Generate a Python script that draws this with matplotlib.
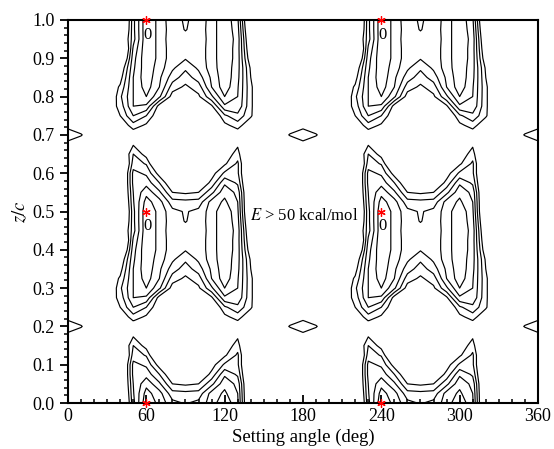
import numpy as np
import matplotlib.pyplot as plt
from matplotlib.ticker import MultipleLocator, FormatStrFormatter

plt.rcParams['font.family'] = 'serif'
plt.rcParams['font.serif'] = ['Liberation Serif', 'DejaVu Serif']
plt.rcParams['mathtext.fontset'] = 'stix'

# energy map (kcal/mol) for one repeat unit:
# setting angle 0..170 deg (step 10), z/c 0..0.475 (step 0.025)
cell_angles = np.arange(0, 180, 10)
cell_z = np.arange(0, 0.5, 0.025)
energy_cell = np.array([
    [70, 70, 70, 75, 89, 33,  2, 13, 27, 31,   27, 15,  2, 18, 80, 80, 72, 70],  # 0.000
    [70, 70, 70, 75, 85, 31,  6, 16, 36, 37,   36, 16,  8, 20, 80, 80, 72, 70],  # 0.025
    [70, 70, 70, 72, 80, 30, 13, 28, 50, 52,   50, 33, 13, 23, 80, 80, 72, 70],  # 0.050
    [70, 70, 70, 72, 80, 27, 24, 40, 62, 65,   62, 47, 22, 32, 80, 80, 72, 70],  # 0.075
    [70, 70, 70, 72, 80, 27, 32, 55, 70, 75,   70, 55, 38, 38, 80, 80, 72, 70],  # 0.100
    [70, 70, 70, 72, 85, 35, 41, 75, 78, 80,   78, 68, 52, 38, 80, 80, 72, 70],  # 0.125
    [70, 70, 70, 72, 70, 40, 55, 70, 78, 80,   78, 70, 58, 45, 80, 80, 72, 70],  # 0.150
    [53, 58, 68, 70, 66, 51, 62, 72, 78, 80,   78, 72, 64, 52, 70, 75, 68, 60],  # 0.175
    [45, 49, 60, 70, 65, 58, 60, 70, 78, 80,   78, 70, 62, 58, 62, 68, 60, 49],  # 0.200
    [53, 58, 65, 70, 60, 44, 52, 68, 78, 80,   78, 66, 53, 45, 60, 68, 65, 58],  # 0.225
    [65, 66, 68, 65, 50, 30, 40, 60, 75, 80,   75, 65, 42, 33, 48, 70, 70, 66],  # 0.250
    [66, 66, 65, 60, 46, 20, 22, 55, 68, 72,   68, 52, 22, 22, 48, 65, 68, 66],  # 0.275
    [69, 68, 68, 69, 42, 20, 10, 28, 55, 58,   52, 32, 10, 20, 48, 65, 68, 68],  # 0.300
    [63, 66, 66, 63, 48, 20,  5, 20, 45, 52,   45, 20,  4, 19, 48, 65, 66, 64],  # 0.325
    [65, 65, 66, 68, 55, 20,  3, 18, 35, 45,   35, 18,  3, 17, 50, 66, 66, 65],  # 0.350
    [70, 68, 68, 70, 62, 22,  3, 15, 28, 38,   28, 15,  3, 16, 52, 68, 68, 70],  # 0.375
    [70, 70, 70, 75, 80, 24,  2, 13, 26, 29,   26, 15,  2, 15, 60, 75, 72, 70],  # 0.400
    [70, 70, 70, 75, 90, 28,  2, 13, 26, 28,   26, 15,  2, 15, 65, 75, 72, 70],  # 0.425
    [70, 70, 70, 72, 74, 34,  2, 13, 27, 27,   27, 15,  2, 14, 70, 80, 72, 70],  # 0.450
    [70, 70, 70, 74, 85, 33,  2, 13, 26, 30.5, 26, 15,  2, 16, 75, 80, 72, 70],  # 0.475
], dtype=float)
levels = [10, 20, 30, 40, 50]

# global minima (E = 0)
min_angle = [60, 60, 60, 240, 240, 240]
min_z = [0.0, 0.5, 1.0, 0.0, 0.5, 1.0]
zero_label_angle = [61, 61, 241, 241]
zero_label_z = [0.462, 0.962, 0.462, 0.962]

# repeat unit is 180 deg in angle and 0.5 in z/c
energy = np.tile(energy_cell, (2, 2))
energy = np.hstack([energy, energy[:, :1]])
energy = np.vstack([energy, energy[:1, :]])
angles = np.append(np.concatenate([cell_angles, cell_angles + 180]), 360)
zs = np.append(np.concatenate([cell_z, cell_z + 0.5]), 1.0)

fig = plt.figure(figsize=(5.54, 4.49), dpi=100)
ax = fig.add_axes([0.1227, 0.1024, 0.8484, 0.8531])

ax.contour(angles, zs, energy, levels=levels, colors='k', linewidths=0.85)
ax.plot(min_angle, min_z, linestyle='none', marker=(6, 2, 0), ms=6, mew=0.9,
        color='red', clip_on=False, zorder=5)
for a, zz in zip(zero_label_angle, zero_label_z):
    ax.text(a, zz, '0', ha='center', va='center', fontsize=12)
ax.text(181, 0.488, r'$E$ > 50 kcal/mol', ha='center', va='center', fontsize=12)

ax.set_xlim(0, 360)
ax.set_ylim(0, 1)
ax.xaxis.set_major_locator(MultipleLocator(60))
ax.xaxis.set_minor_locator(MultipleLocator(10))
ax.yaxis.set_major_locator(MultipleLocator(0.1))
ax.yaxis.set_minor_locator(MultipleLocator(0.02))
ax.yaxis.set_major_formatter(FormatStrFormatter('%.1f'))
ax.tick_params(axis='x', which='both', direction='in', top=False, labelsize=13)
ax.tick_params(axis='y', which='both', direction='out', right=False, labelsize=13)
ax.tick_params(which='major', length=6, width=1.3)
ax.tick_params(which='minor', length=3, width=1.1)
for s in ax.spines.values():
    s.set_linewidth(1.5)

ax.set_xlabel('Setting angle (deg)', fontsize=13.5, labelpad=3)
ax.set_ylabel(r'$z/c$', fontsize=13.5, labelpad=2)

fig.savefig('out.png', dpi=100)
